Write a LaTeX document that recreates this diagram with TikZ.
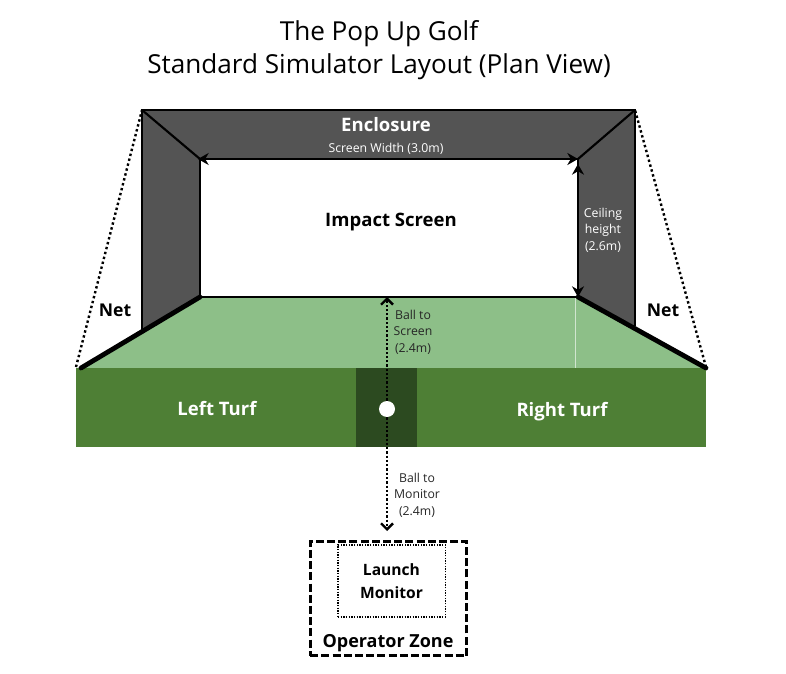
\documentclass[tikz,border=0pt]{standalone}
\usepackage{xcolor}
\usepackage{fontspec}
\setmainfont{Open Sans}
\usetikzlibrary{arrows.meta}
\definecolor{wallgrey}{HTML}{545454}
\definecolor{turfgreen}{HTML}{4E7F35}
\definecolor{lightturf}{HTML}{8DBF88}
\definecolor{hitgreen}{HTML}{2C4A20}
\tikzset{
  netline/.style={line width=3.6pt, line cap=round},
  netedge/.style={line width=1.8pt, dash pattern=on 1.8pt off 2pt},
  measure/.style={line width=1.8pt, dash pattern=on 1.7pt off 1.5pt},
  boldlabel/.style={font=\bfseries\fontsize{13.9}{16}\selectfont, align=center, inner sep=0pt},
  smalllabel/.style={font=\fontsize{9.2}{12.3}\selectfont, align=center, inner sep=0pt},
}
\begin{document}
\begin{tikzpicture}[x=0.75pt, y=-0.75pt]
  \useasboundingbox (0,0) rectangle (786,674);

  \coordinate (outerTL) at (142,110);
  \coordinate (outerTR) at (635,110);
  \coordinate (outerBL) at (142,330);
  \coordinate (outerBR) at (635,326);
  \coordinate (innerTL) at (200,159);
  \coordinate (innerTR) at (578,159);
  \coordinate (innerBL) at (200,297);
  \coordinate (innerBR) at (578,297);
  \coordinate (netL) at (81,368);
  \coordinate (netR) at (706,368);
  \coordinate (edgeL) at (76,367);
  \coordinate (edgeR) at (706,367);

  % enclosure walls
  \fill[wallgrey] (outerTL) -- (outerTR) -- (outerBR) -- (innerBR) -- (innerTR) -- (innerTL) -- (innerBL) -- (outerBL) -- cycle;
  \draw[line width=1.6pt] (outerBL) -- (outerTL) -- (outerTR) -- (outerBR);
  \draw[line width=1.6pt] (outerTL) -- (innerTL) (outerTR) -- (innerTR);
  \draw[line width=1.6pt] (innerTL) rectangle (innerBR);

  % turf
  \fill[lightturf] (innerBL) -- (innerBR) -- (netR) -- (netL) -- cycle;
  \draw[white!60!lightturf, line width=0.5pt] (575,297) -- (575,368);
  \fill[turfgreen] (76,368) rectangle (706,447);
  \fill[hitgreen] (356,368) rectangle (417,447);
  \draw[line width=1.6pt] (innerBL) -- (innerBR);

  % nets
  \draw[netline] (netL) -- (innerBL);
  \draw[netline] (netR) -- (innerBR);
  \draw[netedge] (edgeL) -- (outerTL);
  \draw[netedge] (edgeR) -- (outerTR);

  % ball and operator zone
  \node[circle, fill=white, minimum size=12pt, inner sep=0pt] (ball) at (387,409) {};
  \node[draw, line width=2.1pt, dash pattern=on 6pt off 2.4pt, minimum width=117.5pt, minimum height=86pt, inner sep=0pt] (zone) at (388.5,598.5) {};
  \node[draw, line width=1pt, dash pattern=on 1pt off 1pt, minimum width=80.5pt, minimum height=54pt, inner sep=0pt, boldlabel, font=\bfseries\fontsize{11.7}{17.2}\selectfont] (monitor) at (391.5,581) {Launch\\Monitor};

  % measures
  \coordinate (screenFoot) at (387,297);
  \coordinate (monitorTop) at (387,531);
  \draw[measure, -{Straight Barb[length=4.5pt,width=9pt]}] (ball.north) -- (screenFoot);
  \draw[measure, -{Straight Barb[length=4.5pt,width=9pt]}] (ball.south) -- (monitorTop);
  \draw[measure, {Stealth[length=8pt,width=9pt]}-{Stealth[length=8pt,width=9pt]}] (198,159) -- (innerTR);
  \draw[measure, {Stealth[length=8pt,width=9pt]}-{Stealth[length=8pt,width=9pt]}] (578,164) -- (innerBR);

  % labels
  \node[font=\fontsize{19.6}{24.8}\selectfont, align=center, inner sep=0pt] (title) at (379,50) {The Pop Up Golf\\Standard Simulator Layout (Plan View)};
  \node[boldlabel, white] (enclosure) at (386,125) {Enclosure};
  \node[smalllabel, white] (width) at (386,148.5) {Screen Width (3.0m)};
  \node[boldlabel] (screen) at (391,222.5) {Impact Screen};
  \node[smalllabel, white] (ceiling) at (603,230) {Ceiling\\height\\(2.6m)};
  \node[boldlabel, font=\bfseries\fontsize{13.2}{16}\selectfont] (netleft) at (115,310.5) {Net};
  \node[boldlabel, font=\bfseries\fontsize{13.2}{16}\selectfont] (netright) at (663,310.5) {Net};
  \node[smalllabel, text=black!85] (toscreen) at (413,332) {Ball to\\Screen\\(2.4m)};
  \node[boldlabel, white] (leftturf) at (217,408.5) {Left Turf};
  \node[boldlabel, white] (rightturf) at (562,412) {Right Turf};
  \node[smalllabel, text=black!85] (tomonitor) at (417,495) {Ball to\\Monitor\\(2.4m)};
  \node[boldlabel, font=\bfseries\fontsize{13.5}{16}\selectfont] (operator) at (388,643) {Operator Zone};
\end{tikzpicture}
\end{document}
